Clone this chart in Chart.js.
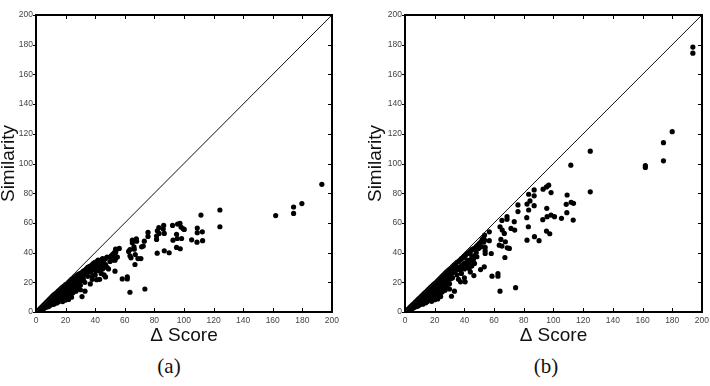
<!DOCTYPE html>
<html>
<head>
    <title>Similarity vs Delta Score</title>
    <script src="https://cdn.jsdelivr.net/npm/chart.js"></script>
    <style>
        body { margin: 0; background: #fff; width: 710px; height: 386px; position: relative; overflow: hidden; }
        canvas { position: absolute; top: 0; }
        .cap { position: absolute; top: 354px; width: 60px; text-align: center; font: 21px "Liberation Serif", serif; color: #111; }
        .box { position: absolute; box-sizing: border-box; border: 2px solid #000; pointer-events: none; }
        .tk { position: absolute; background: #000; pointer-events: none; }
    </style>
</head>
<body>
    <canvas id="chartA" width="343" height="344" style="left:0px"></canvas>
    <canvas id="chartB" width="346" height="344" style="left:367px"></canvas>
    <div class="cap" style="left:139px">(a)</div>
    <div class="cap" style="left:516px">(b)</div>
    <script>
        // axis ticks (both axes, both panels)
        var tickValues = [0, 20, 40, 60, 80, 100, 120, 140, 160, 180, 200];
        var diagonal = [[0, 0], [200, 200]];

        // panel (a): [delta score, similarity]
        var clusterA = [[0.5,0.3],[1,0.8],[1.5,1],[2,1.5],[2,1],[3,2.5],[3,1.5],[4,3.5],[4,2],[5,4.5],[5,3],[5,2.2],[6,5.5],[6,4],[6,2.8],
            [7,6.5],[7,5],[7,3.3],[8,7.5],[8,6],[8,4.5],[8,3.6],[9,8.5],[9,7],[9,5.5],[9,4],[10,9.5],[10,8],[10,6.5],[10,4.8],
            [11,10.5],[11,9],[11,7.5],[11,5.5],[12,11.5],[12,10],[12,8.5],[12,6.5],[12,5.2],[13,12.3],[13,10.8],[13,9],[13,7.2],
            [14,13],[14,11.5],[14,10],[14,8],[14,6],[15,14],[15,12.5],[15,10.5],[15,8.5],[15,6.8],[16,15],[16,13],[16,11],[16,9],[16,7.5],
            [17,16],[17,14],[17,12],[17,10],[17,8],[18,16.8],[18,15],[18,13],[18,11],[18,9],[18,7],[19,17.5],[19,15.5],[19,13.5],[19,11.5],[19,9.5],
            [20,18.5],[20,16.5],[20,14.5],[20,12],[20,10],[20,8],[21,19],[21,17],[21,15],[21,12.5],[21,10.5],[22,20],[22,18],[22,16],[22,13.5],[22,11],[22,8.5],
            [23,21],[23,19],[23,17],[23,14.5],[23,12],[24,22],[24,20],[24,17.5],[24,15],[24,12.5],[24,10],[25,22.5],[25,20.5],[25,18],[25,15.5],[25,13],
            [26,23.5],[26,21],[26,18.5],[26,16],[27,24],[27,22],[27,19.5],[27,17],[27,14],[28,25],[28,22.5],[28,20],[28,16.5],[29,25.5],[29,23],[29,20.5],[29,18],
            [30,26],[30,23.5],[30,21],[30,18],[30,15],[31,26.5],[31,24],[31,21.5],[32,27.5],[32,24.5],[32,22],[33,28],[33,25],[33,20],[34,29],[34,26],
            [35,30],[35,27],[35,24],[36,30.5],[36,28],[37,31],[37,27],[38,32],[38,29],[38,24],[39,33],[39,30],[40,33.5],[40,31],[40,28],[40,25],
            [41,34],[41,30],[42,35],[42,32],[42,28],[43,34],[43,30],[44,35],[44,31],[44,26],[45,36],[45,33],[45,29],[46,35],[46,31],[46,25],
            [47,36],[47,32],[48,37],[48,30],[50,37],[50,34],[51,38],[52,39],[53,40],[54,41],[52,35],[55,37],[49,29],[43,22],[38,22]];
        var outliersA = [[193.2,86],[174.1,70.7],[174.1,66.4],[179.7,73],[162,64.9],[124.3,68.7],[124.3,57.4],[111.5,65.3],[109,56.5],[109,53.4],
            [112.4,54],[112.6,48],[108.8,47],[105.2,48.6],[100.2,55.6],[98,57.2],[95.7,59.2],[97.3,59.7],[92.3,58.3],[95,52.3],[92.6,48.4],
            [95.5,49.5],[98.4,49.5],[99.5,56],[95,43.5],[97.5,42.6],[90,39.9],[86.7,41.2],[81.9,39.6],[81.5,48.9],[82,54.7],[83,56.8],
            [86.3,58.3],[86,55.9],[86.7,52.9],[83.2,52.9],[81.5,51.1],[75.7,53.6],[75.7,50.9],[73.2,47.7],[67.8,49.3],[68,47.7],[71.4,43.9],
            [72.5,44.4],[65.1,48.4],[65.1,46.6],[66.2,43.9],[63.5,42.1],[66.4,42.3],[67.1,38.7],[63.5,37.8],[64.2,36.5],[68.9,36],[70.9,36],
            [66.9,32],[62.6,40.8],[56.3,42.8],[53.8,42.3],[53.8,40.1],[53.8,36.5],[53.4,34.9],[53.4,27.5],[61.7,23.6],[61.7,22.3],[58.3,22.3],
            [63.5,13.3],[73.6,15.5],[31.1,10.4],[33.1,14],[36.7,18.9],[41,21.8],[47,23.6]];

        // panel (b): [delta score, similarity]
        var clusterB = [[0.5,0.4],[1,0.9],[1.5,1.2],[2,1.8],[2,1.1],[3,2.8],[3,1.7],[4,3.8],[4,2.3],[5,4.8],[5,3.2],[5,2.4],[6,5.7],[6,4.3],[6,3],
            [7,6.7],[7,5.2],[7,3.5],[8,7.7],[8,6.2],[8,4.7],[8,3.7],[9,8.7],[9,7.2],[9,5.7],[9,4.2],[10,9.6],[10,8.2],[10,6.7],[10,5],
            [11,10.6],[11,9.2],[11,7.7],[11,5.7],[12,11.6],[12,10.2],[12,8.7],[12,6.7],[12,5.3],[13,12.5],[13,11],[13,9.3],[13,7.4],
            [14,13.4],[14,11.8],[14,10.2],[14,8.2],[14,6.2],[15,14.4],[15,12.8],[15,10.8],[15,8.8],[15,7],[16,15.4],[16,13.4],[16,11.4],[16,9.3],[16,7.7],
            [17,16.4],[17,14.4],[17,12.4],[17,10.3],[17,8.3],[18,17.3],[18,15.4],[18,13.4],[18,11.3],[18,9.2],[18,7.2],[19,18.2],[19,16],[19,14],[19,11.9],[19,9.8],
            [20,19.2],[20,17],[20,15],[20,12.5],[20,10.3],[20,8.3],[21,20],[21,17.7],[21,15.5],[21,13],[21,10.8],[22,21],[22,18.7],[22,16.5],[22,14],[22,11.4],[22,8.8],
            [23,22],[23,19.7],[23,17.5],[23,15],[23,12.4],[24,23],[24,20.7],[24,18.2],[24,15.6],[24,13],[24,10.4],[25,24],[25,21.5],[25,18.8],[25,16.2],[25,13.5],
            [26,25],[26,22.2],[26,19.5],[26,16.7],[27,26],[27,23.2],[27,20.5],[27,17.7],[27,14.6],[28,27],[28,24],[28,21],[28,17.3],[29,27.8],[29,24.5],[29,21.5],[29,18.8],
            [30,28.7],[30,25],[30,22],[30,19],[30,15.5],[31,29.5],[31,25.5],[31,22.5],[32,30.5],[32,26.5],[32,23],[33,31.5],[33,27],[34,32.5],[34,28],
            [35,33.5],[35,29],[35,25],[36,34],[36,30],[37,35],[37,28.5],[38,36],[38,31],[38,26],[39,36.5],[39,32],[40,37.5],[40,33],[40,29],
            [41,38.5],[41,32],[42,39.5],[42,35],[42,30],[43,40],[43,33],[44,41],[44,35],[45,42],[45,37],[45,31],[46,42.5],[46,34],
            [47,43],[48,44],[48,40],[49,45],[50,46],[51,47],[52,49],[53,50],[53,47],[47,38],[44,27],[40,23],[36,22]];
        var outliersB = [[193.9,178.4],[193.9,174.3],[180,121.4],[174.1,114],[174.1,101.8],[161.9,98.6],[161.9,97.3],[124.8,108.3],[124.8,80.9],
            [111.7,98.9],[109.2,78.8],[108.6,72.5],[109,66.9],[111.9,73.9],[113.5,73.2],[113.3,61.9],[105.4,63.1],[100.7,64.2],[98.4,65.3],
            [98.4,80.4],[96.8,85.4],[95.3,84.2],[93,82.7],[95.5,69.8],[95.7,64.2],[92.8,62.2],[95.3,54.5],[97.5,52.7],[90.3,48],[87.2,50.7],
            [87,82.2],[87,78.2],[87,71.6],[83.3,79.3],[84.2,74.8],[82.2,72.7],[83.3,68.7],[82,63.5],[83.1,57.4],[82.2,48.4],[76.1,72.1],
            [76.1,67.6],[73.6,60.8],[73.9,55.2],[74.5,16.4],[71.4,56.3],[70.3,42.8],[68.9,43.2],[68.7,64.2],[68.7,62.4],[66.9,52.9],[65.3,61.7],
            [65.5,55.2],[64,57.4],[64.6,48.9],[67.6,47.3],[65.3,44.4],[63.5,45],[67.3,36.7],[62.6,25.9],[62.6,24.1],[58.6,24.1],[64,14],
            [58.1,39.4],[56.8,54],[56.8,48],[53.6,51.8],[53.6,48.4],[54,43.5],[54,41.2],[54,39.4],[53.4,30.4],[50.9,28.6],[46.4,24.5],
            [40.5,20.3],[37.4,20.3],[33.3,14],[31.3,10.6],[51.4,43.9],[49.5,42.8],[48.4,37.2],[46.8,32.7],[46.2,36],[43.9,39.4],[43.2,29.3]];

        function toXY(list) {
            return list.map(function (p) { return { x: p[0], y: p[1] }; });
        }

        function addDiv(cls, left, top, w, h) {
            var d = document.createElement('div');
            d.className = cls;
            d.style.left = left + 'px';
            d.style.top = top + 'px';
            d.style.width = w + 'px';
            d.style.height = h + 'px';
            document.body.appendChild(d);
        }

        // frame and tick marks as html overlay, placed from the chart's own scales
        function addFrame(chart, offsetLeft) {
            var a = chart.chartArea, xs = chart.scales.x, ys = chart.scales.y;
            var l = Math.round(offsetLeft + a.left), r = Math.round(offsetLeft + a.right);
            var t = Math.round(a.top), b = Math.round(a.bottom);
            addDiv('box', l - 1, t - 1, r - l + 2, b - t + 2);
            tickValues.forEach(function (v) {
                var px = Math.round(offsetLeft + xs.getPixelForValue(v));
                var py = Math.round(ys.getPixelForValue(v));
                addDiv('tk', px, b - 4, 1, 4);
                addDiv('tk', px, t, 1, 4);
                addDiv('tk', l - 3, py, 3, 1);
                addDiv('tk', r - 4, py, 4, 1);
            });
        }

        function makeChart(id, cluster, outliers, yWidth, offsetLeft) {
            var ctx = document.getElementById(id).getContext('2d');
            var tickFont = { family: '"Liberation Sans", Arial, sans-serif', size: 8.5 };
            var titleFont = { family: '"Liberation Sans", Arial, sans-serif', size: 19, lineHeight: 0.9 };
            var noGrid = { display: false, drawTicks: false, tickLength: 0 };
            var chart = new Chart(ctx, {
                type: 'scatter',
                data: {
                    datasets: [{
                        data: toXY(diagonal),
                        showLine: true,
                        borderColor: '#111',
                        borderWidth: 1,
                        pointRadius: 0
                    }, {
                        data: toXY(cluster.concat(outliers)),
                        backgroundColor: '#000',
                        borderColor: '#000',
                        borderWidth: 0,
                        pointRadius: 2.6
                    }]
                },
                options: {
                    responsive: false,
                    animation: false,
                    layout: { padding: { top: 15, right: 7, left: 0, bottom: 0 } },
                    plugins: { legend: { display: false }, tooltip: { enabled: false } },
                    scales: {
                        x: {
                            type: 'linear',
                            min: 0, max: 200,
                            afterBuildTicks: function (s) { s.ticks = tickValues.map(function (v) { return { value: v }; }); },
                            afterFit: function (s) { s.height = 32; },
                            grid: noGrid,
                            border: { display: false },
                            ticks: { font: tickFont, color: '#444', padding: 4, maxRotation: 0, autoSkip: false },
                            title: { display: true, text: 'Δ Score', font: titleFont, color: '#111', padding: 0 }
                        },
                        y: {
                            type: 'linear',
                            min: 0, max: 200,
                            afterBuildTicks: function (s) { s.ticks = tickValues.map(function (v) { return { value: v }; }); },
                            afterFit: function (s) { s.width = yWidth; },
                            grid: noGrid,
                            border: { display: false },
                            ticks: { font: tickFont, color: '#444', padding: 3, autoSkip: false },
                            title: { display: true, text: 'Similarity', font: titleFont, color: '#111', padding: 0 }
                        }
                    }
                }
            });
            addFrame(chart, offsetLeft);
            return chart;
        }

        makeChart('chartA', clusterA, outliersA, 36, 0);
        makeChart('chartB', clusterB, outliersB, 38, 367);
    </script>
</body>
</html>
